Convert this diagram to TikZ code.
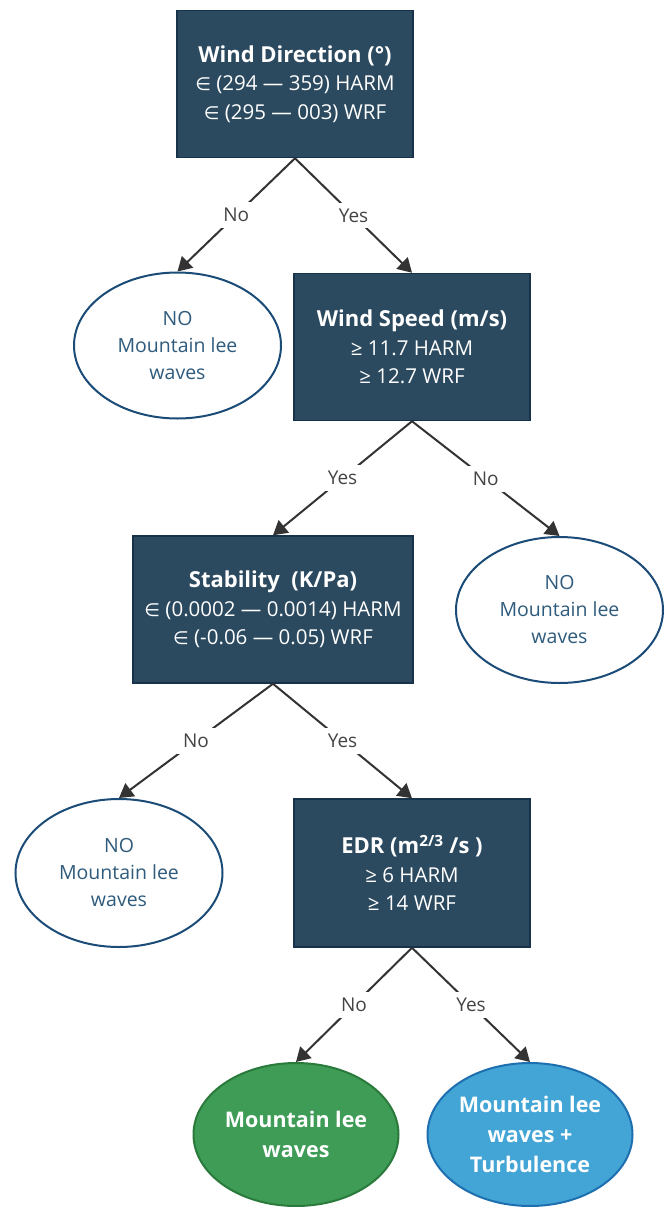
\documentclass[tikz,border=0pt]{standalone}
\usepackage{fontspec}
\setmainfont{Open Sans}
\newfontfamily\symfont{DejaVu Sans}
\usetikzlibrary{shapes.geometric,arrows.meta}
\definecolor{boxfill}{HTML}{2C4A5F}
\definecolor{boxline}{HTML}{17324A}
\definecolor{ellline}{HTML}{1B4C78}
\definecolor{elltext}{HTML}{2F5B7C}
\definecolor{greenfill}{HTML}{3F9C56}
\definecolor{greenline}{HTML}{2A7A3C}
\definecolor{bluefill}{HTML}{43A5D5}
\definecolor{blueline}{HTML}{1D6FAF}
\definecolor{linecol}{HTML}{333333}
\definecolor{lblcol}{HTML}{444444}
\newcommand\ttlfont{\bfseries\fontsize{22}{29}\selectfont}
\newcommand\elem{{\symfont\fontsize{18}{28}\selectfont ∈}}
\tikzset{
  x=1pt,y=-1pt,
  decbox/.style={draw=boxline,line width=1.5pt,fill=boxfill,text=white,align=center,
    inner sep=0pt,font=\fontsize{20.5}{28.5}\selectfont},
  noell/.style={ellipse,draw=ellline,line width=2pt,fill=white,text=elltext,align=center,
    inner sep=0pt,minimum width=207pt,minimum height=146pt,font=\fontsize{19.5}{27}\selectfont},
  resell/.style={ellipse,line width=2pt,text=white,align=center,inner sep=0pt,
    minimum width=205pt,minimum height=143pt,font=\bfseries\fontsize{21.5}{30}\selectfont},
  conn/.style={draw=linecol,line width=2pt,-{Triangle[length=14pt,width=16pt]}},
  lbl/.style={fill=white,text=lblcol,inner sep=6pt,font=\fontsize{19}{20}\selectfont}
}
\begin{document}
\begin{tikzpicture}
\useasboundingbox (0,0) rectangle (669,1207);
\fill[white] (0,0) rectangle (669,1207);
% decision boxes
\node[decbox,minimum width=236pt,minimum height=147pt] (b1) at (295,84)
  {{\ttlfont Wind Direction (°)}\\\elem{} (294 — 359) HARM\\\elem{} (295 — 003) WRF};
\node[decbox,minimum width=236pt,minimum height=147pt] (b2) at (412,347)
  {{\ttlfont Wind Speed (m/s)}\\≥ 11.7 HARM\\≥ 12.7 WRF};
\node[decbox,minimum width=280pt,minimum height=147pt] (b3) at (273,609.5)
  {{\ttlfont Stability~ (K/Pa)}\\\elem{} (0.0002 — 0.0014) HARM\\\elem{} (-0.06 — 0.05) WRF};
\node[decbox,minimum width=236pt,minimum height=148pt] (b4) at (412,873)
  {{\ttlfont EDR (m\textsuperscript{2/3} /s )}\\≥ 6 HARM\\≥ 14 WRF};
% outcome ellipses
\node[noell] (e1) at (177.5,345.5) {NO\\Mountain lee\\waves};
\node[noell] (e2) at (559.5,610) {NO\\Mountain lee\\waves};
\node[noell,minimum height=148pt] (e3) at (119,873) {NO\\Mountain lee\\waves};
\node[resell,draw=greenline,fill=greenfill] (g) at (296,1134.5) {Mountain lee\\waves};
\node[resell,draw=blueline,fill=bluefill] (t) at (530,1134.5) {Mountain lee\\waves +\\Turbulence};
% connectors
\draw[conn] (b1.south) -- node[lbl]{No} (e1.north);
\draw[conn] (b1.south) -- node[lbl]{Yes} (b2.north);
\draw[conn] (b2.south) -- node[lbl]{Yes} (b3.north);
\draw[conn] (b2.south) -- node[lbl]{No} (e2.north);
\draw[conn] (b3.south) -- node[lbl]{No} (e3.north);
\draw[conn] (b3.south) -- node[lbl]{Yes} (b4.north);
\draw[conn] (b4.south) -- node[lbl]{No} (g.north);
\draw[conn] (b4.south) -- node[lbl]{Yes} (t.north);
\end{tikzpicture}
\end{document}
